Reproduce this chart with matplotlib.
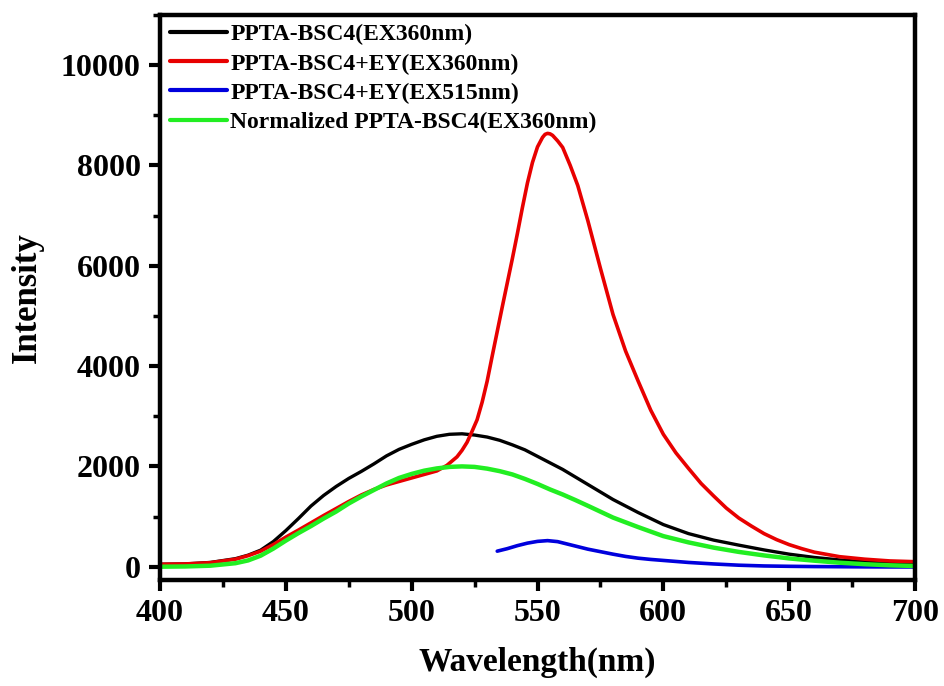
import matplotlib
matplotlib.use("Agg")
import matplotlib.pyplot as plt
from matplotlib.ticker import MultipleLocator

plt.rcParams['font.family'] = ['Liberation Serif', 'DejaVu Serif']
plt.rcParams['font.weight'] = 'bold'

# ---- data ----
black_x = [400, 410, 420, 430, 435, 440, 445, 450, 455, 460, 465, 470, 475, 480, 485, 490, 495,
           500, 505, 510, 515, 520, 525, 530, 535, 540, 545, 550, 555, 560, 565, 570, 575, 580,
           590, 600, 610, 620, 630, 640, 650, 660, 670, 680, 690, 700]
black_y = [50, 55, 85, 160, 230, 330, 500, 720, 960, 1210, 1420, 1600, 1760, 1900, 2050, 2210, 2340,
           2440, 2530, 2600, 2640, 2650, 2625, 2585, 2520, 2430, 2330, 2200, 2070, 1940, 1790, 1640, 1490, 1340,
           1080, 840, 660, 530, 430, 335, 250, 185, 135, 98, 72, 54]

red_x = [400, 410, 420, 430, 435, 440, 445, 450, 455, 460, 465, 470, 475, 480, 485, 490, 495, 500,
         505, 510, 514, 518, 520, 522, 524, 526, 528, 530, 532, 534, 536, 538, 540, 542, 544, 546,
         548, 550, 552, 553, 554, 555, 556, 558, 560, 563, 566, 570, 575, 580, 585, 590, 595, 600, 605, 610,
         615, 620, 625, 630, 635, 640, 645, 650, 655, 660, 670, 680, 690, 700]
red_y = [48, 55, 80, 150, 220, 310, 440, 590, 730, 875, 1020, 1160, 1300, 1430, 1540, 1630, 1700, 1770,
         1840, 1910, 2020, 2190, 2320, 2480, 2700, 2930, 3280, 3700, 4200, 4690, 5180, 5660, 6140, 6640, 7160, 7650,
         8060, 8370, 8560, 8620, 8640, 8630, 8600, 8490, 8360, 8000, 7600, 6900, 5950, 5030, 4300, 3700, 3120, 2640, 2270, 1960,
         1660, 1410, 1170, 970, 810, 660, 540, 440, 360, 290, 200, 150, 115, 100]

blue_x = [534, 538, 542, 546, 550, 554, 558, 562, 566, 570, 575, 580, 585, 590, 595, 600, 610, 620,
          630, 640, 650, 660, 670, 680, 690, 700]
blue_y = [310, 360, 420, 470, 505, 520, 500, 450, 400, 350, 300, 250, 205, 170, 145, 125, 85, 55,
          30, 15, 8, 3, 0, -3, -5, -5]

green_x = [400, 410, 420, 430, 435, 440, 445, 450, 455, 460, 465, 470, 475, 480, 485, 490, 495, 500,
           505, 510, 515, 520, 525, 530, 535, 540, 545, 550, 555, 560, 565, 570, 580, 590, 600, 610,
           620, 630, 640, 650, 660, 670, 680, 690, 700]
green_y = [0, 5, 20, 70, 125, 220, 360, 520, 670, 810, 960, 1100, 1260, 1400, 1530, 1660, 1770, 1850,
           1915, 1960, 1990, 2000, 1990, 1955, 1905, 1840, 1750, 1650, 1540, 1440, 1330, 1215, 980, 790, 610, 485,
           380, 295, 225, 165, 120, 80, 50, 28, 14]

labels = ["PPTA-BSC4(EX360nm)", "PPTA-BSC4+EY(EX360nm)", "PPTA-BSC4+EY(EX515nm)",
          "Normalized PPTA-BSC4(EX360nm)"]
colors = ["#000000", "#e80000", "#0000dd", "#22ee22"]

xticks = [400, 450, 500, 550, 600, 650, 700]
yticks = [0, 2000, 4000, 6000, 8000, 10000]

fig = plt.figure(figsize=(9.44, 6.86), dpi=100)
ax = fig.add_axes([160/944, 1-580/686, (915-160)/944, (580-15)/686])

series = [(black_x, black_y, 2.4), (red_x, red_y, 2.6), (blue_x, blue_y, 2.6), (green_x, green_y, 3.2)]
for (x, y, lw), lab, c in zip(series, labels, colors):
    ax.plot(x, y, color=c, lw=lw, label=lab, solid_capstyle='round', solid_joinstyle='round')

ax.set_xlim(400, 700)
ax.set_ylim(-265, 11000)
ax.set_xticks(xticks)
ax.set_yticks(yticks)
ax.xaxis.set_minor_locator(MultipleLocator(25))
ax.yaxis.set_minor_locator(MultipleLocator(1000))

for s in ax.spines.values():
    s.set_linewidth(3.2)
ax.tick_params(which='major', direction='out', length=8, width=3, labelsize=23, pad=6)
ax.tick_params(which='minor', direction='out', length=5, width=2.5)
for t in ax.get_xticklabels() + ax.get_yticklabels():
    t.set_fontweight('bold')

ax.set_xlabel("Wavelength(nm)", fontsize=24, fontweight='bold', labelpad=13)
ax.set_ylabel("Intensity", fontsize=25, fontweight='bold', labelpad=12)

leg = ax.legend(loc='upper left', bbox_to_anchor=(170/944, 1-24/686), bbox_transform=fig.transFigure,
                frameon=False, fontsize=17, handlelength=2.4, handletextpad=0.15,
                labelspacing=0.32, borderaxespad=0, borderpad=0)
for t in leg.get_texts():
    t.set_fontweight('bold')
for l in leg.get_lines():
    l.set_linewidth(3)

fig.savefig("out.png", dpi=100)
